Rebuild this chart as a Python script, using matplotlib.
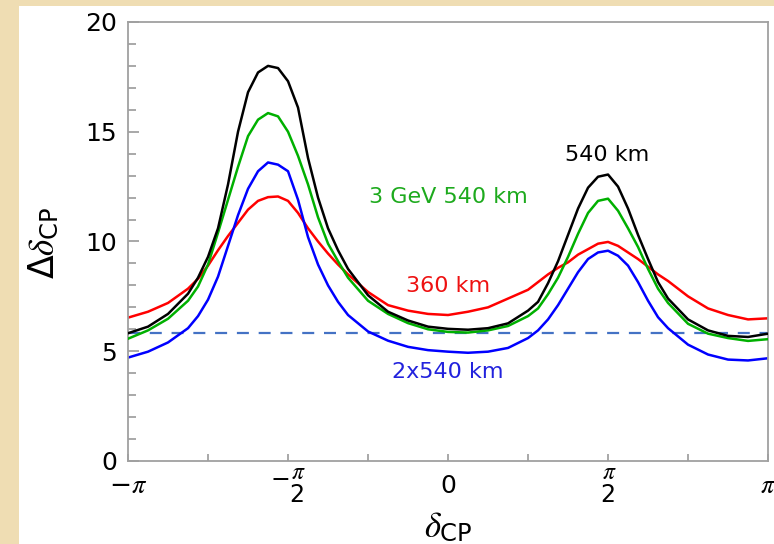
import matplotlib
matplotlib.use('Agg')
import matplotlib.pyplot as plt
from matplotlib.patches import Rectangle

plt.rcParams['font.family'] = ['DejaVu Sans']
plt.rcParams['mathtext.fontset'] = 'custom'
plt.rcParams['mathtext.rm'] = 'DejaVu Sans'
plt.rcParams['mathtext.sf'] = 'DejaVu Sans'
plt.rcParams['mathtext.it'] = 'STIXGeneral:italic'

# delta_CP in units of pi
dcp = [-1.0, -0.9375, -0.875, -0.8125, -0.78125, -0.75, -0.71875, -0.6875,
       -0.65625, -0.625, -0.59375, -0.5625, -0.53125, -0.5, -0.46875, -0.4375,
       -0.40625, -0.375, -0.34375, -0.3125, -0.25, -0.1875, -0.125, -0.0625,
       0.0, 0.0625, 0.125, 0.1875, 0.25, 0.28125, 0.3125, 0.34375, 0.375,
       0.40625, 0.4375, 0.46875, 0.5, 0.53125, 0.5625, 0.59375, 0.625,
       0.65625, 0.6875, 0.75, 0.8125, 0.875, 0.9375, 1.0]

km540 = [5.82, 6.12, 6.70, 7.62, 8.35, 9.30, 10.6, 12.6, 15.0, 16.8, 17.7, 18.0,
         17.9, 17.3, 16.1, 13.8, 12.0, 10.6, 9.6, 8.75, 7.55, 6.8, 6.4, 6.12,
         6.02, 5.98, 6.05, 6.27, 6.85, 7.25, 8.1, 9.1, 10.3, 11.5, 12.45, 12.95,
         13.05, 12.5, 11.5, 10.3, 9.2, 8.15, 7.4, 6.45, 5.95, 5.7, 5.65, 5.8]

gev3_540 = [5.57, 5.95, 6.48, 7.30, 7.95, 8.95, 10.4, 11.9, 13.4, 14.8, 15.55,
            15.85, 15.7, 15.0, 13.9, 12.6, 11.1, 9.9, 9.1, 8.35, 7.3, 6.7, 6.28,
            6.0, 5.88, 5.85, 5.95, 6.15, 6.6, 6.95, 7.6, 8.35, 9.3, 10.35, 11.3,
            11.85, 11.95, 11.4, 10.6, 9.75, 8.75, 7.85, 7.2, 6.25, 5.8, 5.6,
            5.47, 5.55]

km360 = [6.53, 6.8, 7.2, 7.85, 8.3, 8.9, 9.6, 10.25, 10.85, 11.45, 11.85, 12.02,
         12.05, 11.85, 11.3, 10.6, 10.0, 9.45, 8.95, 8.5, 7.7, 7.1, 6.85, 6.7,
         6.65, 6.8, 7.0, 7.4, 7.8, 8.15, 8.5, 8.8, 9.05, 9.4, 9.65, 9.9, 9.98,
         9.8, 9.5, 9.2, 8.85, 8.5, 8.2, 7.5, 6.95, 6.65, 6.45, 6.5]

km2x540 = [4.71, 4.98, 5.4, 6.05, 6.6, 7.35, 8.4, 9.8, 11.2, 12.4, 13.2, 13.6,
           13.5, 13.2, 11.9, 10.2, 8.95, 8.0, 7.25, 6.65, 5.9, 5.48, 5.2, 5.05,
           4.98, 4.93, 4.98, 5.15, 5.6, 5.95, 6.45, 7.1, 7.85, 8.6, 9.2, 9.5,
           9.58, 9.35, 8.9, 8.15, 7.3, 6.55, 6.05, 5.3, 4.85, 4.62, 4.58, 4.68]

threshold = 5.83

xticks = [-1.0, -0.5, 0.0, 0.5, 1.0]
xticklabels = [r'$-\pi$', r'$-\genfrac{}{}{0}{0}{\pi}{\mathrm{2}}$', '0',
               r'$\genfrac{}{}{0}{0}{\pi}{\mathrm{2}}$', r'$\pi$']

fig = plt.figure(figsize=(7.74, 5.44), dpi=100, facecolor='#EFDDB3')
# white panel behind the plot, beige strip left and top
fig.patches.append(Rectangle((19 / 774, 0), 1, 1 - 6 / 544, transform=fig.transFigure,
                             facecolor='white', edgecolor='none', zorder=-10))
ax = fig.add_axes([0.1654, 0.1526, 0.8269, 0.8070])
ax.set_facecolor('white')

ax.axhline(threshold, color='#4472C4', lw=1.6, ls=(0, (5.4, 4.4)), zorder=1)
ax.plot(dcp, km360, color='#FF0000', lw=1.8, zorder=2)
ax.plot(dcp, km2x540, color='#0000FF', lw=1.8, zorder=2)
ax.plot(dcp, gev3_540, color='#00B000', lw=1.8, zorder=3)
ax.plot(dcp, km540, color='black', lw=1.8, zorder=4)

ax.text(0.0, 12.03, '3 GeV 540 km', color='#1DAA1D', ha='center', va='center', fontsize=16)
ax.text(0.0, 7.97, '360 km', color='#EE1111', ha='center', va='center', fontsize=16)
ax.text(0.0, 4.05, '2x540 km', color='#2222DD', ha='center', va='center', fontsize=16)
ax.text(0.497, 13.94, '540 km', color='black', ha='center', va='center', fontsize=16)

ax.set_xlim(-1, 1)
ax.set_ylim(0, 20)
ax.set_xticks(xticks)
ax.set_xticklabels(xticklabels)
ax.set_xticks([-0.75, -0.25, 0.25, 0.75], minor=True)
ax.set_yticks([0, 5, 10, 15, 20])
ax.set_yticks(range(0, 21), minor=True)

ax.tick_params(axis='both', which='both', direction='in', color='#999999', width=1.2)
ax.tick_params(axis='x', which='both', length=5, labelsize=18, pad=18)
ax.tick_params(axis='y', which='major', length=8, labelsize=18, pad=8)
ax.tick_params(axis='y', which='minor', length=6)
for i, lbl in enumerate(ax.get_xticklabels()):
    lbl.set_va('center')
    if i in (0, 4):
        lbl.set_fontsize(19)
    if i in (1, 3):
        lbl.set_fontsize(17)

for sp in ax.spines.values():
    sp.set_color('#A0A0A0')
    sp.set_linewidth(1.3)

ax.set_xlabel(r'$\delta_{\mathrm{CP}}$', fontsize=25, va='top')
ax.xaxis.set_label_coords(0.5, -0.113)
ax.set_ylabel(r'$\Delta\delta_{\mathrm{CP}}$', fontsize=25, va='center')
ax.yaxis.set_label_coords(-0.131, 0.497)

fig.savefig('out.png', dpi=100, facecolor=fig.get_facecolor())
